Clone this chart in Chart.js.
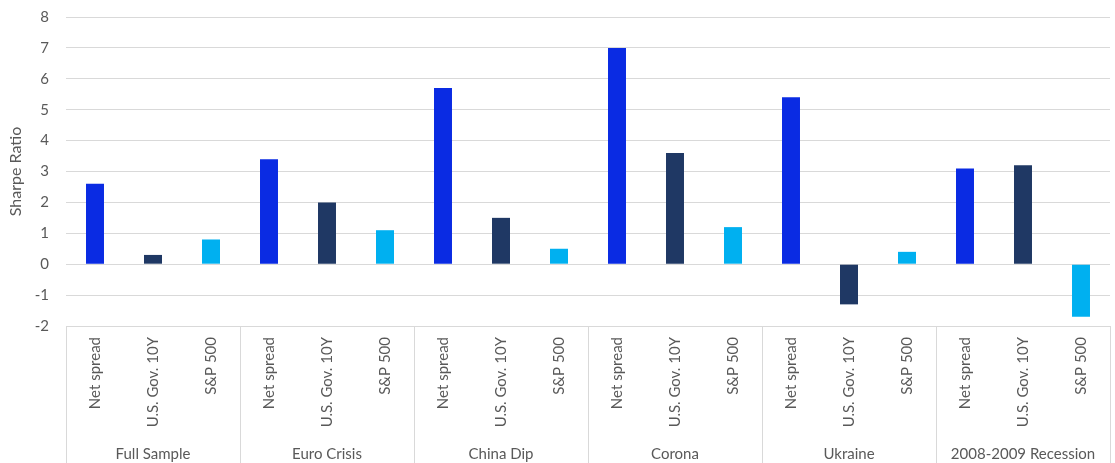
<!DOCTYPE html>
<html>
<head>
<meta charset="utf-8">
<script src="https://cdn.jsdelivr.net/npm/chart.js@4"></script>
<style>
  body { margin: 0; background: #fff; }
  #wrap { width: 1115px; height: 463px; }
</style>
</head>
<body>
<div id="wrap"><canvas id="chartSharpe"></canvas></div>
<script>
const periods = ['Full Sample', 'Euro Crisis', 'China Dip', 'Corona', 'Ukraine', '2008-2009 Recession'];
const assets = ['Net spread', 'U.S. Gov. 10Y', 'S&P 500'];
const netSpread = [2.6, 3.4, 5.7, 7.0, 5.4, 3.1];
const usGov10y = [0.3, 2.0, 1.5, 3.6, -1.3, 3.2];
const sp500 = [0.8, 1.1, 0.5, 1.2, 0.4, -1.7];
const assetColors = ['#0a2be3', '#1f3864', '#00b0f0'];

// una barra por (periodo, activo)
const labels = [];
const values = [];
const colors = [];
periods.forEach(function(p, i){
    [netSpread, usGov10y, sp500].forEach(function(serie, j){
        labels.push(assets[j]);
        values.push(serie[i]);
        colors.push(assetColors[j]);
    });
});

const textColor = '#595959';
const lineColor = '#d9d9d9';

// lineas separadoras entre periodos (debajo del eje)
const groupLines = {
    id: 'groupLines',
    afterDraw(chart) {
        const ctx = chart.ctx;
        const area = chart.chartArea;
        const step = (area.right - area.left) / periods.length;
        ctx.save();
        ctx.strokeStyle = lineColor;
        ctx.lineWidth = 1;
        for (let i = 0; i <= periods.length; i++) {
            const x = Math.round(area.left + step * i) + 0.5;
            ctx.beginPath();
            ctx.moveTo(x, area.bottom);
            ctx.lineTo(x, chart.height);
            ctx.stroke();
        }
        ctx.restore();
    }
};

new Chart(document.getElementById('chartSharpe'), {
    type: 'bar',
    data: {
        labels: labels,
        datasets: [{
            data: values,
            backgroundColor: colors,
            barPercentage: 0.31,
            categoryPercentage: 1
        }]
    },
    options: {
        responsive: true,
        maintainAspectRatio: false,
        animation: false,
        layout: { padding: { top: 17, right: 5, left: 0, bottom: 0 } },
        plugins: {
            legend: { display: false },
            tooltip: { enabled: false }
        },
        scales: {
            x: {
                grid: { display: false },
                border: { display: false },
                ticks: {
                    color: textColor,
                    font: { family: 'Lato', size: 15 },
                    minRotation: 90,
                    maxRotation: 90,
                    padding: 3
                },
                afterFit: function(scale){ scale.height = 107; }
            },
            x2: {
                type: 'category',
                labels: periods,
                position: 'bottom',
                offset: true,
                grid: { display: false },
                border: { display: false },
                ticks: {
                    color: textColor,
                    font: { family: 'Lato', size: 15 },
                    maxRotation: 0,
                    padding: 4
                },
                afterFit: function(scale){ scale.height = 30; }
            },
            y: {
                min: -2,
                max: 8,
                ticks: {
                    stepSize: 1,
                    color: textColor,
                    font: { family: 'Lato', size: 15 },
                    padding: 3
                },
                grid: { color: lineColor, drawTicks: true, tickLength: 14, tickColor: 'rgba(0,0,0,0)' },
                border: { display: false },
                title: {
                    display: true,
                    text: 'Sharpe Ratio',
                    color: textColor,
                    font: { family: 'Lato', size: 16 },
                    padding: { top: 6, bottom: 0 }
                },
                afterFit: function(scale){ scale.width = 66; }
            }
        }
    },
    plugins: [groupLines]
});
</script>
</body>
</html>
